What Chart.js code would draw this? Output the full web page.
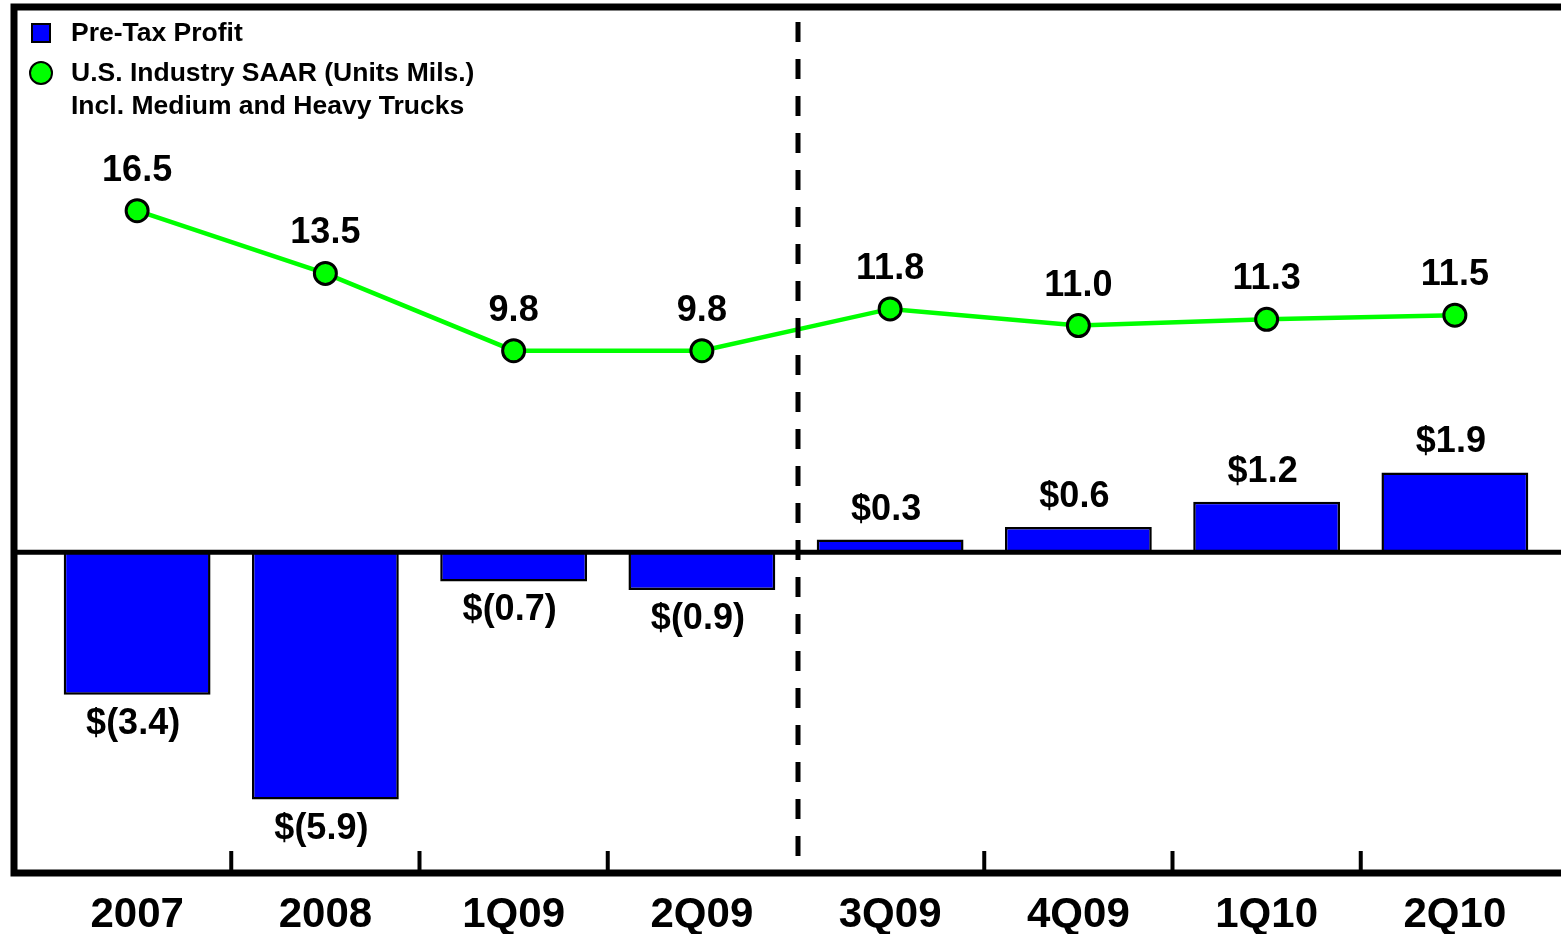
<!DOCTYPE html>
<html>
<head>
<meta charset="utf-8">
<script src="https://cdn.jsdelivr.net/npm/chart.js@4.4.1/dist/chart.umd.min.js"></script>
<style>
    html, body { margin: 0; padding: 0; background: #fff; overflow: hidden; }
    #wrap { width: 1561px; height: 934px; }
</style>
</head>
<body>
<div id="wrap"><canvas id="chart" width="1561" height="934"></canvas></div>
<script>
// Chart data
const categories = ['2007', '2008', '1Q09', '2Q09', '3Q09', '4Q09', '1Q10', '2Q10'];
const preTaxProfit = [-3.4, -5.9, -0.7, -0.9, 0.3, 0.6, 1.2, 1.9];
const saarUnits = [16.5, 13.5, 9.8, 9.8, 11.8, 11.0, 11.3, 11.5];
const legendProfit = 'Pre-Tax Profit';
const legendSaar = ['U.S. Industry SAAR (Units Mils.)', 'Incl. Medium and Heavy Trucks'];
const dividerAfter = 3; // dashed line between 2Q09 and 3Q09

const FONT = '"Liberation Sans", Arial, sans-serif';
const BLUE = '#0000ff';
const GREEN = '#00ff00';

function fmtProfit(v) {
    return v < 0 ? `$(${Math.abs(v).toFixed(1)})` : `$${v.toFixed(1)}`;
}

// Frame, zero line, tick marks and divider
const framePlugin = {
    id: 'frame',
    afterDatasetsDraw(chart) {
        const { ctx, chartArea, scales } = chart;
        const x = scales.x;
        const left = chartArea.left - 29;
        ctx.save();
        ctx.strokeStyle = '#000';

        // zero line
        const y0 = scales.y.getPixelForValue(0);
        ctx.lineWidth = 5;
        ctx.beginPath();
        ctx.moveTo(left, y0);
        ctx.lineTo(chart.width + 10, y0);
        ctx.stroke();

        // box
        ctx.lineWidth = 7;
        ctx.strokeRect(left, chartArea.top, chart.width + 40, chartArea.bottom - chartArea.top);

        // bottom tick marks between categories
        ctx.lineWidth = 4;
        for (let i = 0; i < categories.length - 1; i++) {
            if (i === dividerAfter) continue;
            const bx = (x.getPixelForValue(i) + x.getPixelForValue(i + 1)) / 2;
            ctx.beginPath();
            ctx.moveTo(bx, chartArea.bottom);
            ctx.lineTo(bx, chartArea.bottom - 22);
            ctx.stroke();
        }

        // dashed divider
        const dx = (x.getPixelForValue(dividerAfter) + x.getPixelForValue(dividerAfter + 1)) / 2 + 2;
        ctx.lineWidth = 5;
        ctx.setLineDash([20, 17]);
        ctx.beginPath();
        ctx.moveTo(dx, chartArea.top + 15);
        ctx.lineTo(dx, chartArea.bottom);
        ctx.stroke();
        ctx.restore();
    }
};

// Value labels, category labels and legend
const labelPlugin = {
    id: 'labels',
    afterDraw(chart) {
        const { ctx, chartArea, scales } = chart;
        ctx.save();
        ctx.fillStyle = '#000';
        ctx.textAlign = 'center';
        ctx.textBaseline = 'middle';

        ctx.font = `bold 36px ${FONT}`;
        chart.getDatasetMeta(0).data.forEach((bar, i) => {
            const v = preTaxProfit[i];
            const y = v < 0 ? bar.y + 29 : bar.y - 30;
            ctx.fillText(fmtProfit(v), bar.x - 4, y);
        });
        chart.getDatasetMeta(1).data.forEach((pt, i) => {
            ctx.fillText(saarUnits[i].toFixed(1), pt.x, pt.y - 40);
        });

        // category labels
        ctx.font = `bold 42px ${FONT}`;
        categories.forEach((c, i) => {
            ctx.fillText(c, scales.x.getPixelForValue(i), chartArea.bottom + 42);
        });

        // legend
        ctx.textAlign = 'left';
        ctx.font = `bold 26.5px ${FONT}`;
        ctx.lineWidth = 2;
        ctx.strokeStyle = '#000';
        ctx.fillStyle = BLUE;
        ctx.fillRect(32, 24, 18, 18);
        ctx.strokeRect(32, 24, 18, 18);
        ctx.fillStyle = '#000';
        ctx.fillText(legendProfit, 71, 34);

        ctx.fillStyle = GREEN;
        ctx.beginPath();
        ctx.arc(41, 73, 11, 0, Math.PI * 2);
        ctx.fill();
        ctx.stroke();
        ctx.fillStyle = '#000';
        legendSaar.forEach((t, i) => ctx.fillText(t, 71, 74 + i * 33));
        ctx.restore();
    }
};

new Chart(document.getElementById('chart'), {
    type: 'bar',
    data: {
        labels: categories,
        datasets: [
            {
                type: 'bar',
                label: legendProfit,
                data: preTaxProfit,
                yAxisID: 'y',
                backgroundColor: BLUE,
                borderColor: '#000',
                borderWidth: 2.5,
                categoryPercentage: 1,
                barPercentage: 0.78,
                order: 1
            },
            {
                type: 'line',
                label: legendSaar.join(' '),
                data: saarUnits,
                yAxisID: 'y1',
                borderColor: GREEN,
                borderWidth: 4.5,
                tension: 0,
                pointRadius: 11,
                pointBackgroundColor: GREEN,
                pointBorderColor: '#000',
                pointBorderWidth: 3,
                order: 0
            }
        ]
    },
    options: {
        responsive: false,
        animation: false,
        layout: { autoPadding: false, padding: { left: 43, right: 12, top: 7, bottom: 61 } },
        plugins: {
            legend: { display: false },
            tooltip: { enabled: false }
        },
        scales: {
            x: { display: false, offset: true },
            y: { display: false, min: -7.65, max: 13 },
            y1: { display: false, min: -15.2, max: 26.25 }
        }
    },
    plugins: [framePlugin, labelPlugin]
});
</script>
</body>
</html>
